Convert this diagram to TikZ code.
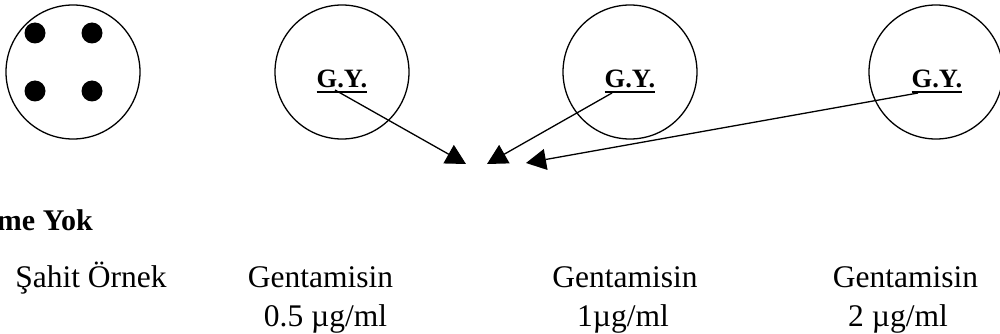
\documentclass[tikz,border=0pt]{standalone}
\usepackage{fontspec}
\setmainfont{Liberation Serif}
\usetikzlibrary{arrows.meta}
\begin{document}
\begin{tikzpicture}[x=1pt,y=-1pt,
  plate/.style={circle,draw,line width=1.3pt,inner sep=0pt,minimum size=134pt},
  dot/.style={circle,fill,inner sep=0pt,minimum size=21pt},
  gy/.style={inner sep=0pt,anchor=base,font=\fontsize{26.5}{30}\selectfont\bfseries},
  lbl/.style={inner sep=0pt,anchor=base,font=\fontsize{31.5}{36}\selectfont},
  arr/.style={line width=1.3pt,-{Triangle[length=20pt,width=21pt]}},
  uline/.style={line width=2pt}]
\useasboundingbox (0,0) rectangle (1000,334);
% plates
\node[plate] (c1) at (73,72) {};
\node[plate] (c2) at (342,72) {};
\node[plate] (c3) at (630,72) {};
\node[plate] (c4) at (936,72) {};
% dots in control plate
\node[dot] (d1) at (35,33) {};
\node[dot] (d2) at (92,33) {};
\node[dot] (d3) at (35,91) {};
\node[dot] (d4) at (92,91) {};
% G.Y. labels
\node[gy] (g2) at (342,88) {G.Y.};
\node[gy] (g3) at (630,88) {G.Y.};
\node[gy] (g4) at (937,88) {G.Y.};
\foreach \g in {g2,g3,g4}
  \draw[uline] ([yshift=-4pt]\g.base west) -- ([yshift=-4pt]\g.base east);
% arrow ends
\coordinate (s2) at (335,90);
\coordinate (s3) at (612,93);
\coordinate (s4) at (918,93);
\coordinate (t2) at (466,164);
\coordinate (t3) at (487,164);
\coordinate (t4) at (526,163);
\draw[arr] (s2) -- (t2);
\draw[arr] (s3) -- (t3);
\draw[arr] (s4) -- (t4);
% texts
\node[inner sep=0pt,anchor=base east,font=\fontsize{30}{34}\selectfont\bfseries] (gyk) at (93,230) {me Yok};
\node[lbl] (l1) at (91,287) {Şahit Örnek};
\node[lbl] (l2a) at (320.5,287) {Gentamisin};
\node[lbl] (l2b) at (325.5,326) {0.5 µg/ml};
\node[lbl] (l3a) at (625,287) {Gentamisin};
\node[lbl] (l3b) at (623,326) {1µg/ml};
\node[lbl] (l4a) at (905.5,287) {Gentamisin};
\node[lbl] (l4b) at (898,326) {2 µg/ml};
\end{tikzpicture}
\end{document}
